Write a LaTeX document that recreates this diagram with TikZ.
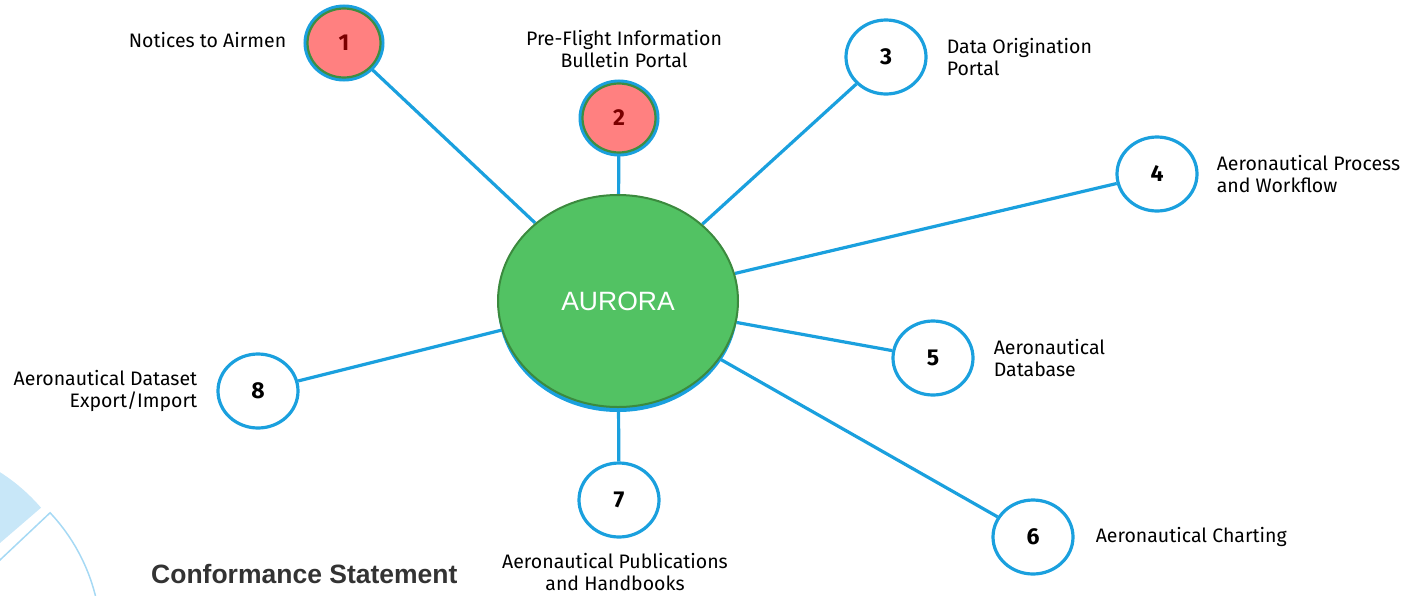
\documentclass[tikz,border=0pt]{standalone}
\usepackage{fontspec}
\setmainfont{Fira Sans}
\newfontfamily\arialfont{Liberation Sans}
\usetikzlibrary{shapes.geometric,positioning,backgrounds}

\definecolor{linkblue}{HTML}{1AA0DE}
\definecolor{flagred}{HTML}{FF8080}
\definecolor{ringgreen}{HTML}{3E8E41}
\definecolor{hubgreen}{HTML}{52C263}
\definecolor{hubedge}{HTML}{3B8A3E}
\definecolor{numred}{HTML}{7A0000}
\definecolor{slicefill}{HTML}{C8E7F8}
\definecolor{sliceline}{HTML}{A6D9F4}
\definecolor{headgray}{HTML}{333333}

\tikzset{
  part/.style={ellipse, draw=linkblue, line width=3.2pt, fill=white,
    minimum width=80pt, minimum height=74pt, inner sep=0pt,
    font=\fontsize{23}{23}\selectfont\bfseries},
  flagpart/.style={part, preaction={draw=linkblue, line width=8pt},
    draw=ringgreen, line width=2.2pt, fill=flagred, text=numred,
    minimum width=73pt, minimum height=69pt},
  hub/.style={ellipse, fill=hubgreen, draw=hubedge, line width=2pt,
    minimum width=240pt, minimum height=212pt, inner sep=0pt,
    text=white, font=\arialfont\fontsize{26.5}{26.5}\selectfont},
  link/.style={draw=linkblue, line width=3.2pt},
  tag/.style={inner sep=0pt, font=\fontsize{19.5}{22}\selectfont}
}

\begin{document}
\begin{tikzpicture}[x=1pt,y=-1pt]
\useasboundingbox (0,0) rectangle (1403,595);

% the hub
\node[hub] (aurora) at (618,301) {AURORA};

% the numbered parts
\node[flagpart] (n1) at (344,43) {1};
\node[flagpart] (n2) at (619,118) {2};
\node[part] (n3) at (886,57) {3};
\node[part] (n4) at (1157,174) {4};
\node[part] (n5) at (933,358) {5};
\node[part] (n6) at (1033,537) {6};
\node[part] (n7) at (619,500) {7};
\node[part] (n8) at (258,391) {8};

% labels for the parts
\node[tag, left=20pt of n1, yshift=3pt] {Notices to Airmen};
\node[tag, align=center, above=14pt of n2, xshift=5pt] {Pre-Flight Information\\Bulletin Portal};
\node[tag, align=left, right=19pt of n3] {Data Origination\\Portal};
\node[tag, align=left, right=18pt of n4] {Aeronautical Process\\and Workflow};
\node[tag, align=left, right=19pt of n5] {Aeronautical\\Database};
\node[tag, right=21pt of n6] {Aeronautical Charting};
\node[tag, align=center, below=14pt of n7, xshift=-4pt] {Aeronautical Publications\\and Handbooks};
\node[tag, align=right, left=19pt of n8] {Aeronautical Dataset\\Export/Import};

% the heading at the bottom
\node[anchor=base west, inner sep=0pt, text=headgray,
  font=\arialfont\bfseries\fontsize{26.5}{30}\selectfont] (head) at (151,583) {Conformance Statement};

\begin{scope}[on background layer]
% shadow under the hub
\fill[linkblue] ([yshift=-5pt]aurora.center) ellipse (120pt and 106pt);
% spokes
\foreach \k in {1,...,8}
  \draw[link] (aurora) -- (n\k);
% the pie slices in the corner
\begin{scope}
\clip (0,0) rectangle (1403,595);
\fill[slicefill] (-100,629) -- plot[domain=-75:-40.7] ({-100+186*cos(\x)},{629+186*sin(\x)}) -- cycle;
\draw[sliceline, line width=1.5pt] (-86,641) -- plot[domain=-43.3:10] ({-86+187*cos(\x)},{641+187*sin(\x)}) -- cycle;
\end{scope}
\end{scope}
\end{tikzpicture}
\end{document}
